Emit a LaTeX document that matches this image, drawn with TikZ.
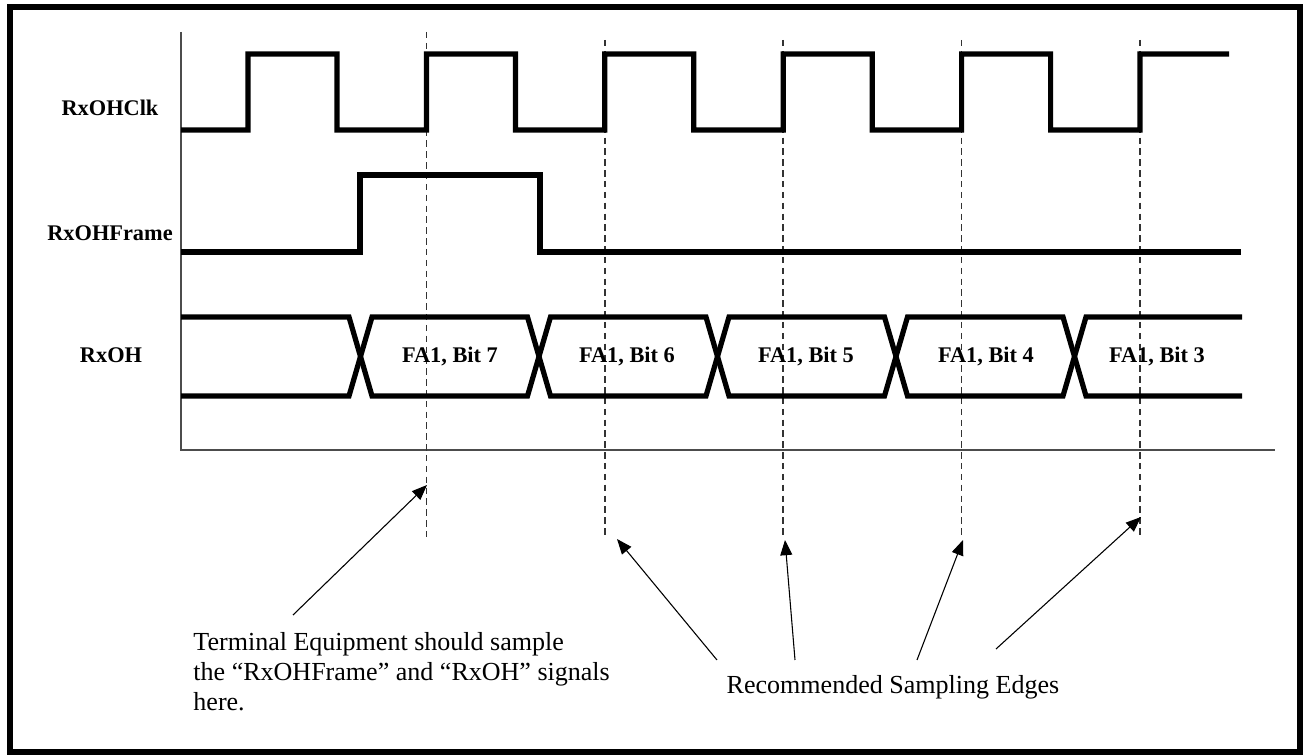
\documentclass[tikz,border=0pt]{standalone}
\usepackage{fontspec}
\setmainfont{Liberation Serif}
\usetikzlibrary{arrows.meta,positioning}

\begin{document}
\begin{tikzpicture}[
    x=0.461pt, y=-0.461pt,
    sig/.style={line width=2.4pt, line join=miter},
    axisline/.style={line width=0.7pt, black!70},
    sampleline/.style={line width=0.8pt, black!80, dash pattern=on 3pt off 2pt},
    callout/.style={line width=0.5pt, -{Triangle[length=7pt,width=5.5pt]}},
    siglbl/.style={font=\fontsize{10.3}{12}\selectfont\bfseries},
    bitlbl/.style={font=\fontsize{10.3}{12}\selectfont\bfseries, inner sep=1pt},
    note/.style={font=\fontsize{12}{13.8}\selectfont, align=left, inner sep=0pt},
    >=Stealth
]
\useasboundingbox (0,0) rectangle (1304,755);
\draw[line width=2.6pt] (10,7) rectangle (1300,752);

% axes
\draw[axisline] (181,32) -- (181,450) -- (1275,450);

% signal names
\node[siglbl] (clk) at (110,108) {RxOHClk};
\node[siglbl] (frm) at (110,233) {RxOHFrame};
\node[siglbl] (oh)  at (111,355) {RxOH};

% sampling edges
\draw[sampleline] (426.4,32) -- (426.4,538);
\foreach \x in {604.8,783.2,961.6,1140}
    \draw[sampleline] (\x,40) -- (\x,538);

% RxOHClk
\draw[sig] (181,130) -- (248,130)
    \foreach \k in {0,...,4}{
        -- ({248+178.4*\k},54) -- ({337+178.4*\k},54)
        -- ({337+178.4*\k},130) -- ({426.4+178.4*\k},130)}
    -- (1140,54) -- (1229,54);

% RxOHFrame
\draw[sig] (181,252) -- (360,252) -- (360,175) -- (540,175) -- (540,252) -- (1241,252);

% RxOH
\draw[sig] (181,317) -- (349,317) -- (372,396) -- (527.5,396) -- (550.5,317)
    -- (706,317) -- (729,396) -- (884.5,396) -- (907.5,317)
    -- (1063,317) -- (1086,396) -- (1242,396);
\draw[sig] (181,396) -- (349,396) -- (372,317) -- (527.5,317) -- (550.5,396)
    -- (706,396) -- (729,317) -- (884.5,317) -- (907.5,396)
    -- (1063,396) -- (1086,317) -- (1242,317);

\node[bitlbl] (bit7) at (450,356) {FA1, Bit 7};
\node[bitlbl] (bit6) at (627,356) {FA1, Bit 6};
\node[bitlbl] (bit5) at (806,356) {FA1, Bit 5};
\node[bitlbl] (bit4) at (986,356) {FA1, Bit 4};
\node[bitlbl] (bit3) at (1157,356) {FA1, Bit 3};

% notes
\node[note, anchor=west] (term) at (193,672) {Terminal Equipment should sample\\
    the “RxOHFrame” and “RxOH” signals\\ here.};
\node[note] (rec) at (893,687) {Recommended Sampling Edges};

\coordinate (tTE) at (293,615);
\coordinate (hTE) at (427,485);
\coordinate (t1) at (717,660);
\coordinate (h1) at (617,539);
\coordinate (t2) at (795,660);
\coordinate (h2) at (785,540);
\coordinate (t3) at (917,660);
\coordinate (h3) at (963,540);
\coordinate (t4) at (996,649);
\coordinate (h4) at (1141,517);

\draw[callout] (tTE) -- (hTE);
\draw[callout] (t1) -- (h1);
\draw[callout] (t2) -- (h2);
\draw[callout] (t3) -- (h3);
\draw[callout] (t4) -- (h4);
\end{tikzpicture}
\end{document}
